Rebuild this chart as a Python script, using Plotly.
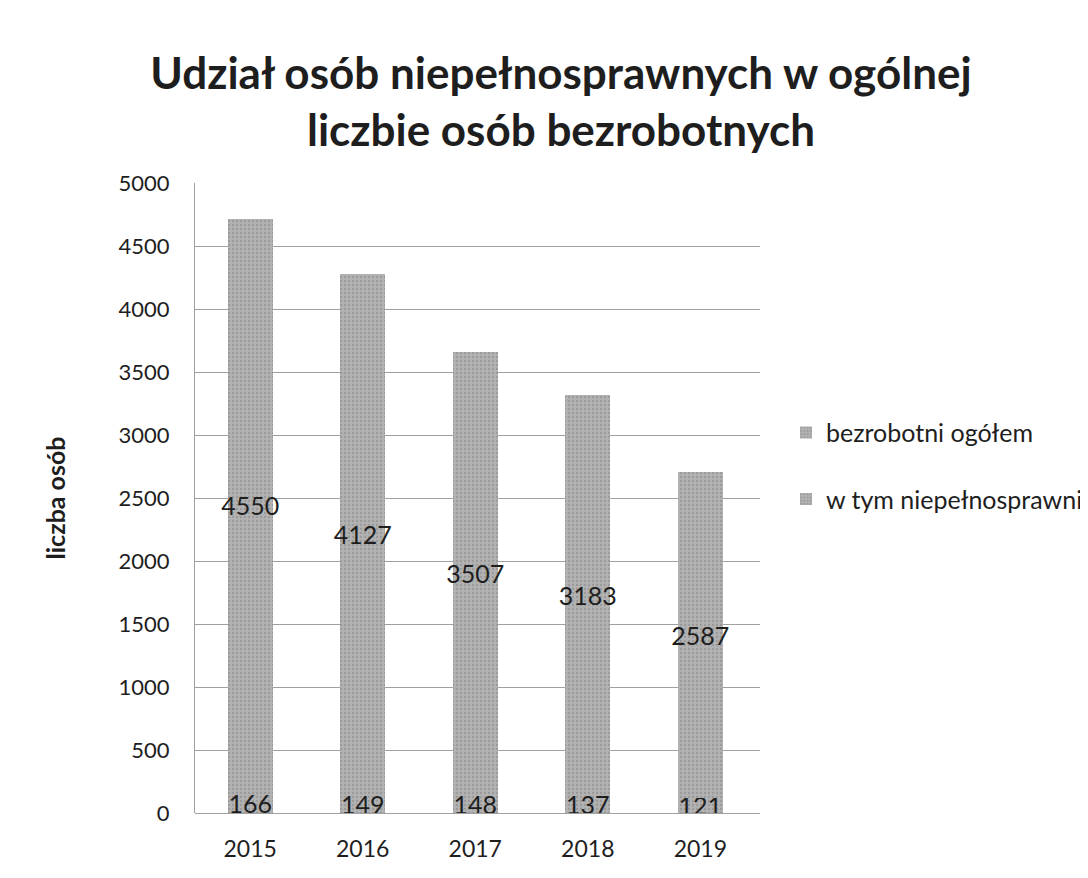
import plotly.graph_objects as go

years = ["2015", "2016", "2017", "2018", "2019"]
ogolem = [4550, 4127, 3507, 3183, 2587]
niepelnosprawni = [166, 149, 148, 137, 121]
y_ticks = [0, 500, 1000, 1500, 2000, 2500, 3000, 3500, 4000, 4500, 5000]

font_family = "Lato, Open Sans, sans-serif"
text_color = "#1e1e1e"
bar_color = "#b2b2b2"
grid_color = "#a0a0a0"
pattern = dict(shape=".", size=4, solidity=0.25, fgcolor="#999999", bgcolor=bar_color, fillmode="replace")

fig = go.Figure()
fig.add_trace(go.Bar(
    x=years, y=niepelnosprawni, name="w tym niepełnosprawni",
    marker=dict(color=bar_color, pattern=pattern, line=dict(width=0)),
    text=[str(v) for v in niepelnosprawni], textposition="inside", textangle=0,
    insidetextanchor="middle", constraintext="none",
    textfont=dict(size=25, color=text_color, family=font_family),
    legendgroup="b", legendrank=2, width=0.4,
))
fig.add_trace(go.Bar(
    x=years, y=ogolem, name="bezrobotni ogółem",
    marker=dict(color=bar_color, pattern=pattern, line=dict(width=0)),
    text=[str(v) for v in ogolem], textposition="inside", textangle=0,
    insidetextanchor="middle", constraintext="none",
    textfont=dict(size=25, color=text_color, family=font_family),
    legendgroup="a", legendrank=1, width=0.4,
))

fig.update_layout(
    barmode="stack",
    width=1080, height=862,
    paper_bgcolor="white", plot_bgcolor="white",
    margin=dict(l=187, r=328, t=175, b=57, autoexpand=False),
    title=dict(
        text="<b>Udział osób niepełnosprawnych w ogólnej<br>liczbie osób bezrobotnych</b>",
        x=(561 - 8) / 1080, xref="container", xanchor="center",
        y=1 - 81 / 862, yref="container", yanchor="top",
        font=dict(size=44, color=text_color, family=font_family),
    ),
    font=dict(family=font_family, color=text_color),
    legend=dict(
        x=1.046, xanchor="left", y=0.551, yanchor="middle",
        traceorder="grouped", tracegroupgap=31,
        font=dict(size=25, color=text_color, family=font_family),
        itemwidth=30,
    ),
)
fig.update_xaxes(
    showgrid=False, showline=False, ticks="",
    range=[-0.49, 4.53],
    ticklabelstandoff=20, automargin=False,
    tickfont=dict(size=23, color=text_color),
)
fig.update_yaxes(
    range=[0, 5000], tickvals=y_ticks,
    showgrid=True, gridcolor=grid_color, gridwidth=1,
    zeroline=True, zerolinecolor=grid_color, zerolinewidth=1,
    showline=True, linecolor=grid_color, linewidth=1,
    tickfont=dict(size=22, color=text_color),
    ticklabelstandoff=20, automargin=False,
    title=dict(text="<b>liczba osób</b>", font=dict(size=25, color=text_color), standoff=45),
)

fig.write_html("out.html")
